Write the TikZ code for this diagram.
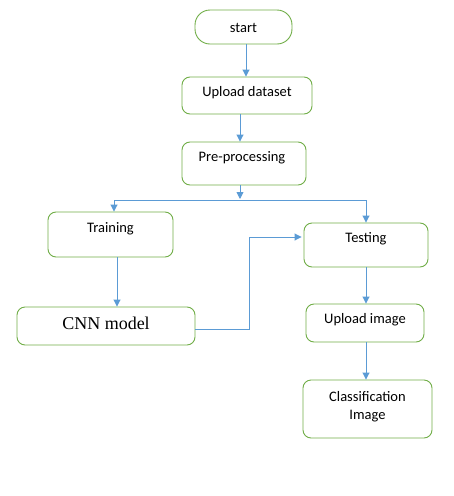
\documentclass[tikz,border=0pt]{standalone}
\usepackage{fontspec}
\setmainfont{Carlito}
\newfontfamily\cnnfont{Liberation Serif}
\usetikzlibrary{arrows.meta}
\definecolor{boxgreen}{HTML}{70AD47}
\definecolor{arrblue}{HTML}{5B9BD5}
\tikzset{
  box/.style={draw=boxgreen, line width=0.9pt, rounded corners=8pt, minimum width=#1, inner sep=0pt},
  lbl/.style={font=\fontsize{14.5}{17}\selectfont, inner sep=0pt, align=center},
  arr/.style={draw=arrblue, line width=0.9pt, -{Triangle[length=7pt,width=7pt]}},
  ln/.style={draw=arrblue, line width=0.9pt}
}
\begin{document}
\begin{tikzpicture}[x=1pt, y=-1pt]
\useasboundingbox (0,0) rectangle (454,496);
% boxes
\node[box=97pt, minimum height=34pt, rounded corners=15pt] (start) at (243.5,27) {};
\node[box=130pt, minimum height=37pt] (upload) at (247,95.5) {};
\node[box=124pt, minimum height=43pt] (pre) at (244,163.5) {};
\node[box=125pt, minimum height=45pt] (train) at (110.5,234.5) {};
\node[box=124pt, minimum height=44pt] (test) at (366,245) {};
\node[box=178pt, minimum height=38pt] (cnn) at (106,326) {};
\node[box=118pt, minimum height=38pt] (upimg) at (365,323) {};
\node[box=129pt, minimum height=58pt] (class) at (367.5,409) {};
% labels
\node[lbl] (tstart) at (243.5,28) {start};
\node[lbl] (tupload) at (247,93) {Upload dataset};
\node[lbl] (tpre) at (242,157.5) {Pre-processing};
\node[lbl] (ttrain) at (110.5,228.5) {Training};
\node[lbl] (ttest) at (366,238.5) {Testing};
\node[font=\cnnfont\fontsize{18}{20}\selectfont, inner sep=0pt] (tcnn) at (106,323) {CNN model};
\node[lbl] (tupimg) at (365,319.5) {Upload image};
\node[lbl, font=\fontsize{14.5}{18}\selectfont] (tclass) at (367.5,407) {Classification\\Image};
% connectors
\coordinate (split) at (240,199);
\coordinate (jl) at (114,200);
\coordinate (jr) at (366,200);
\coordinate (bend) at (249,237);
\draw[arr] ([xshift=2.5pt]start.south) -- ([xshift=-1pt]upload.north);
\draw[arr] ([xshift=-7pt]upload.south) -- ([xshift=-4pt]pre.north);
\draw[arr] ([xshift=-4pt]pre.south) -- (split);
\draw[ln] (jl) -- (jr);
\draw[arr] (jl) -- (train.north -| jl);
\draw[arr] (jr) -- (test.north -| jr);
\draw[arr] ([xshift=6.5pt]train.south) -- ([xshift=11pt]cnn.north);
\draw[arr] ([yshift=-3pt]cnn.east) -| (bend) -- ([xshift=-2pt]test.west |- bend);
\draw[arr] (test.south) -- (upimg.north -| test.south);
\draw[arr] (upimg.south -| test.south) -- (class.north -| test.south);
\end{tikzpicture}
\end{document}
